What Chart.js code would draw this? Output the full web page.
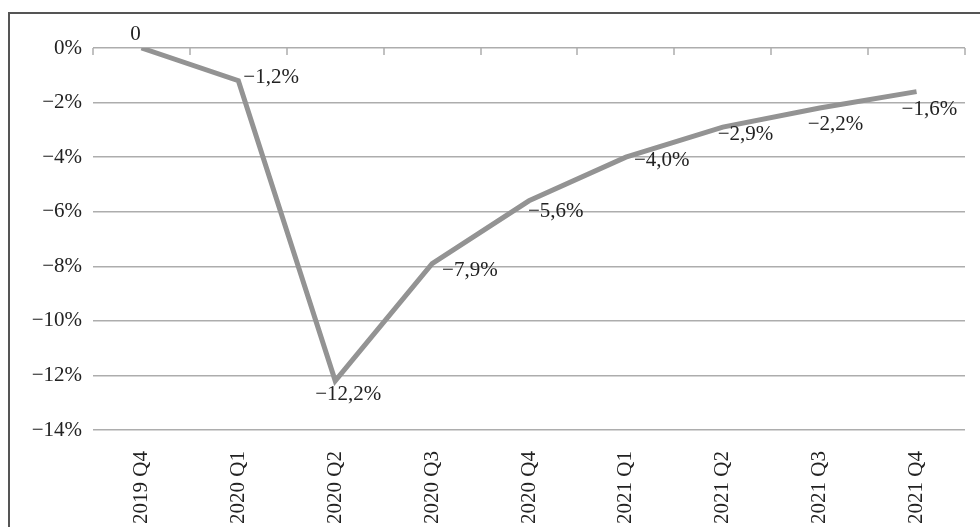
<!DOCTYPE html>
<html>
<head>
<meta charset="utf-8">
<script src="https://cdn.jsdelivr.net/npm/chart.js@4.4.1/dist/chart.umd.min.js"></script>
<style>
  html, body { margin: 0; padding: 0; background: #fff; overflow: hidden; width: 980px; height: 527px; }
  #frame { position: absolute; left: 8px; top: 12px; width: 1000px; height: 600px; border: 2px solid #555; pointer-events: none; }
  #mycanvas { position: absolute; left: 0; top: 0; }
</style>
</head>
<body>
<div id="frame"></div>
<canvas id="mycanvas" width="980" height="600"></canvas>
<script>
var quarters = ['2019 Q4','2020 Q1','2020 Q2','2020 Q3','2020 Q4','2021 Q1','2021 Q2','2021 Q3','2021 Q4'];
var change = [0, -1.2, -12.2, -7.9, -5.6, -4.0, -2.9, -2.2, -1.6];
var yTicks = [0, -2, -4, -6, -8, -10, -12, -14];

// where each value label sits relative to its point (dx, dy, align)
var labelPos = [
  [-6, -14, 'center'], [5, -3, 'left'], [-20, 14, 'left'], [10, 7, 'left'], [-1, 11, 'left'],
  [8, 3, 'left'], [-5, 7, 'left'], [-12, 16, 'left'], [-15, 18, 'left']
];

var serif = "'Liberation Serif', 'DejaVu Serif', serif";

function fmt(v){
  if(v === 0) return '0';
  return '\u2212' + Math.abs(v).toFixed(1).replace('.', ',') + '%';
}

var extras = {
  id: 'extras',
  beforeDatasetsDraw: function(chart){
    var ctx = chart.ctx, x = chart.scales.x, y = chart.scales.y;
    var y0 = y.getPixelForValue(0);
    ctx.save();
    ctx.strokeStyle = '#adadad';
    ctx.lineWidth = 1.5;
    for(var i = 0; i <= quarters.length; i++){
      var px = Math.round(x.getPixelForValue(i - 0.5));
      ctx.beginPath();
      ctx.moveTo(px, y0);
      ctx.lineTo(px, y0 + 7);
      ctx.stroke();
    }
    ctx.restore();
  },
  afterDatasetsDraw: function(chart){
    var ctx = chart.ctx;
    var pts = chart.getDatasetMeta(0).data;
    ctx.save();
    ctx.font = '21px ' + serif;
    ctx.fillStyle = '#222';
    ctx.textBaseline = 'middle';
    for(var i = 0; i < pts.length; i++){
      var p = labelPos[i];
      ctx.textAlign = p[2];
      ctx.fillText(fmt(change[i]), pts[i].x + p[0], pts[i].y + p[1]);
    }
    ctx.restore();
  }
};

var ctx = document.getElementById('mycanvas');
var chart = new Chart(ctx, {
  type: 'line',
  data: {
    labels: quarters,
    datasets: [{
      data: change,
      borderColor: '#939393',
      borderWidth: 5,
      borderJoinStyle: 'miter',
      pointRadius: 0,
      tension: 0,
      fill: false
    }]
  },
  options: {
    responsive: false,
    devicePixelRatio: 1,
    animation: false,
    layout: { padding: { top: 48, right: 15, left: 0, bottom: 0 } },
    plugins: { legend: { display: false }, tooltip: { enabled: false } },
    scales: {
      x: {
        offset: true,
        grid: { display: false },
        border: { display: false },
        ticks: {
          minRotation: 90, maxRotation: 90, autoSkip: false, padding: 13,
          color: '#222', font: { family: serif, size: 21 }
        },
        afterFit: function(s){ s.height = 170; }
      },
      y: {
        min: -14, max: 0,
        afterBuildTicks: function(s){ s.ticks = yTicks.map(function(v){ return { value: v }; }); },
        grid: { color: '#adadad', lineWidth: 1.5, drawTicks: false },
        border: { display: false },
        ticks: {
          padding: 11, color: '#222', font: { family: serif, size: 21 },
          callback: function(v){ return v === 0 ? '0%' : '\u2212' + Math.abs(v) + '%'; }
        },
        afterFit: function(s){ s.width = 93; }
      }
    }
  },
  plugins: [extras]
});
</script>
</body>
</html>
